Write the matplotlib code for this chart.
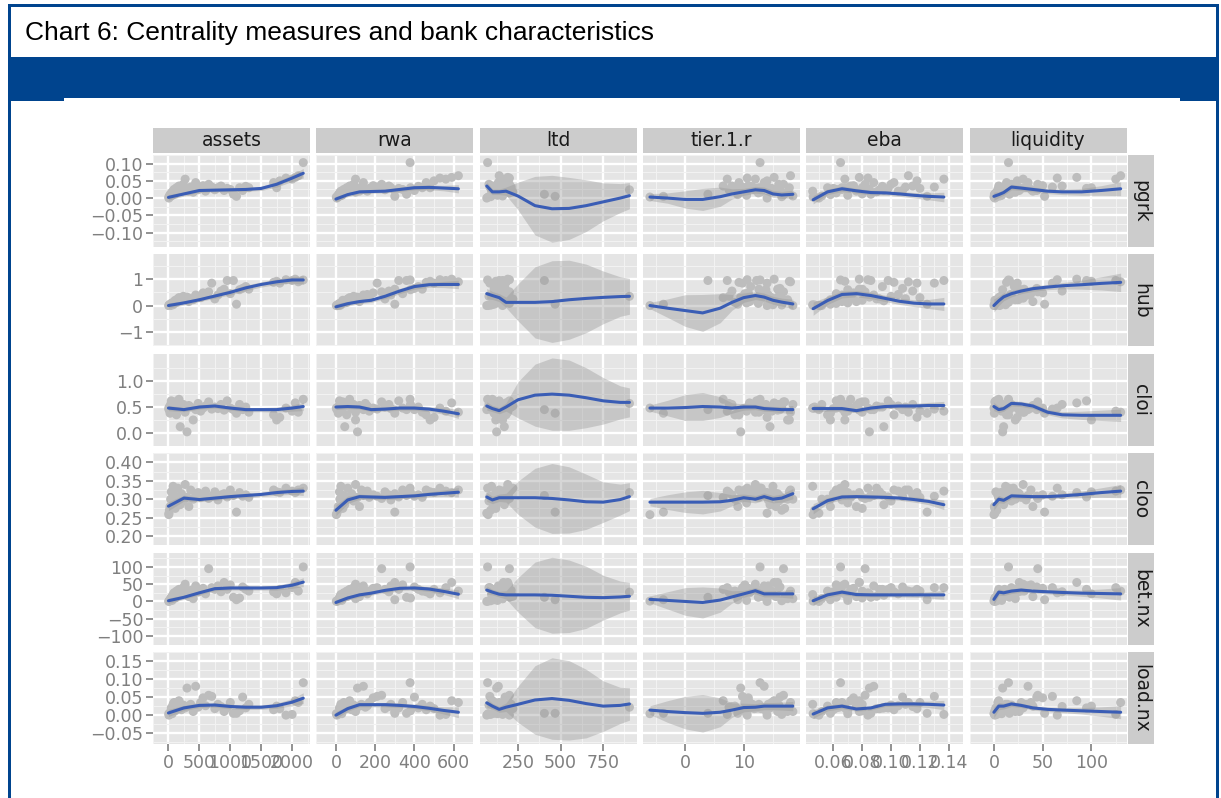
import matplotlib
matplotlib.use("Agg")
import matplotlib.pyplot as plt
from matplotlib.patches import Rectangle

W, H = 1221, 798

cols = ["assets", "rwa", "ltd", "tier.1.r", "eba", "liquidity"]
rows = ["pgrk", "hub", "cloi", "cloo", "bet.nx", "load.nx"]

# bank characteristics (one value per bank)
assets = [8, 15, 25, 35, 45, 60, 75, 90, 110, 130, 150, 170, 190, 210, 240, 270, 300, 330, 360, 400,
          440, 480, 520, 560, 600, 650, 700, 750, 800, 850, 900, 950, 1000, 1050, 1100, 1150, 1200, 1250,
          1300, 1700, 1750, 1800, 1900, 2000, 2050, 2100, 2180, 5]
rwa = [5, 10, 12, 20, 18, 30, 25, 40, 35, 55, 60, 70, 45, 80, 90, 100, 110, 120, 130, 100,
       140, 150, 170, 190, 160, 233, 210, 250, 280, 270, 300, 320, 340, 360, 300, 380, 400, 420,
       440, 460, 480, 500, 530, 560, 590, 624, 378, 2]
ltd = [67, 90, 110, 160, 200, 130, 95, 180, 120, 140, 220, 100, 170, 150, 80, 190, 125, 105, 210, 160,
       135, 904, 115, 175, 145, 200, 85, 155, 185, 125, 165, 140, 195, 405, 468, 130, 175, 150,
       110, 180, 120, 150, 200, 160, 190, 140, 72, 75]
tier1 = [14.0, 16.5, 9.0, 18.4, 12.5, 10.5, 15.0, 11.0, 17.0, 8.5, 13.0, 6.5, 14.5, 10.0, 16.0, 12.0,
         9.5, 15.5, 11.5, 17.5, 13.5, 7.5, 14.8, 10.8, 12.8, 16.8, 9.8, 11.8, 14.2, 8.0, 15.8, 12.2,
         10.2, 3.9, -3.7, 13.8, 16.2, 11.2, 12.6, 9.2, 17.8, 14.0, 10.6, 7.2, 15.2, 18.0, 12.8, -6.0]
eba = [0.050, 0.047, 0.058, 0.052, 0.062, 0.070, 0.0457, 0.066, 0.080, 0.056, 0.090, 0.072, 0.095,
       0.060, 0.100, 0.068, 0.085, 0.076, 0.110, 0.058, 0.088, 0.064, 0.120, 0.074, 0.105, 0.082,
       0.130, 0.092, 0.066, 0.115, 0.078, 0.098, 0.062, 0.086, 0.125, 0.070, 0.108, 0.094, 0.080,
       0.102, 0.068, 0.118, 0.084, 0.1366, 0.078, 0.112, 0.065, 0.046]
liquidity = [1, 3, 0.5, 6, 2, 8, 12, 4, 1, 15, 20, 5, 10, 25, 18, 30, 9, 40, 14, 22, 35, 7, 28, 50,
             17, 45, 60, 11, 33, 70, 26, 95, 38, 16, 52, 9, 44, 21, 31, 13, 100, 24, 65, 125, 85,
             130, 15, 0.1]

# centrality measures (same banks)
pgrk = [0.000, 0.004, 0.010, 0.006, 0.015, 0.008, 0.020, 0.025, 0.012, 0.030, 0.018, 0.035, 0.022,
        0.028, 0.040, 0.055, 0.026, 0.020, 0.032, 0.017, 0.045, 0.024, 0.028, 0.036, 0.020, 0.040,
        0.032, 0.024, 0.030, 0.035, 0.022, 0.028, 0.025, 0.011, 0.005, 0.030, 0.022, 0.034, 0.030,
        0.045, 0.030, 0.050, 0.058, 0.055, 0.060, 0.065, 0.103, 0.003]
hub = [0.00, 0.02, 0.05, 0.00, 0.08, 0.10, 0.03, 0.15, 0.20, 0.12, 0.25, 0.30, 0.18, 0.22, 0.35,
       0.28, 0.32, 0.15, 0.26, 0.22, 0.40, 0.35, 0.30, 0.48, 0.42, 0.52, 0.85, 0.25, 0.40, 0.55,
       0.62, 0.95, 0.45, 0.95, 0.05, 0.60, 0.65, 0.72, 0.62, 0.88, 0.92, 0.85, 0.98, 0.95, 1.00,
       0.90, 0.97, 0.00]
cloi = [0.45, 0.50, 0.38, 0.55, 0.62, 0.42, 0.48, 0.58, 0.60, 0.35, 0.52, 0.65, 0.12, 0.47, 0.55,
        0.40, 0.02, 0.53, 0.50, 0.25, 0.45, 0.57, 0.42, 0.48, 0.52, 0.60, 0.46, 0.50, 0.47, 0.55,
        0.44, 0.62, 0.48, 0.45, 0.38, 0.55, 0.45, 0.50, 0.40, 0.35, 0.25, 0.30, 0.48, 0.42, 0.58,
        0.40, 0.65, 0.48]
cloo = [0.262, 0.270, 0.280, 0.300, 0.320, 0.290, 0.335, 0.310, 0.275, 0.300, 0.330, 0.305, 0.285,
        0.315, 0.295, 0.340, 0.305, 0.280, 0.325, 0.300, 0.310, 0.318, 0.305, 0.312, 0.322, 0.302,
        0.308, 0.320, 0.298, 0.312, 0.315, 0.306, 0.325, 0.310, 0.265, 0.318, 0.308, 0.312, 0.305,
        0.325, 0.320, 0.318, 0.330, 0.322, 0.318, 0.325, 0.330, 0.258]
bet = [0, 2, 5, 8, 12, 3, 20, 25, 10, 30, 15, 35, 18, 28, 40, 50, 22, 14, 32, 8, 45, 27, 30, 38, 22,
       95, 40, 35, 45, 28, 55, 35, 48, 12, 5, 10, 42, 35, 30, 28, 22, 35, 25, 40, 55, 30, 100, 1]
load = [0.000, 0.002, 0.005, 0.010, 0.020, 0.004, 0.030, 0.035, 0.012, 0.025, 0.018, 0.040, 0.020,
        0.015, 0.028, 0.020, 0.075, 0.025, 0.030, 0.010, 0.080, 0.022, 0.035, 0.048, 0.026, 0.055,
        0.052, 0.018, 0.030, 0.024, 0.010, 0.020, 0.035, 0.005, 0.005, 0.012, 0.050, 0.020, 0.030,
        0.015, 0.025, 0.018, 0.000, 0.002, 0.040, 0.035, 0.090, 0.004]

# loess smooth: x knots per column, fitted value and ci half-width per row (one list per column)
assets_k = [0, 250, 500, 750, 1000, 1250, 1500, 1750, 2000, 2180]
rwa_k = [0, 60, 120, 180, 250, 325, 400, 475, 550, 624]
ltd_k = [67, 100, 140, 180, 250, 350, 450, 550, 650, 750, 850, 904]
tier_k = [-6, -3, 0, 3, 6, 8, 10, 12, 13.5, 15, 16.5, 18.4]
eba_k = [0.046, 0.056, 0.066, 0.076, 0.086, 0.096, 0.106, 0.116, 0.126, 0.1366]
liq_k = [0, 5, 10, 18, 28, 40, 55, 70, 90, 110, 130]

pgrk_fit = [[0.002, 0.012, 0.022, 0.023, 0.024, 0.025, 0.028, 0.040, 0.058, 0.072],
            [-0.003, 0.010, 0.018, 0.019, 0.020, 0.025, 0.030, 0.031, 0.029, 0.027],
            [0.035, 0.018, 0.018, 0.020, 0.006, -0.022, -0.031, -0.030, -0.022, -0.011, 0.000, 0.007],
            [0.003, 0.000, -0.004, -0.004, 0.004, 0.012, 0.018, 0.024, 0.022, 0.012, 0.009, 0.011],
            [-0.005, 0.018, 0.027, 0.021, 0.016, 0.015, 0.012, 0.008, 0.005, 0.003],
            [0.005, 0.010, 0.016, 0.032, 0.029, 0.025, 0.020, 0.018, 0.018, 0.022, 0.027]]
pgrk_se = [[0.008, 0.006, 0.005, 0.005, 0.005, 0.005, 0.006, 0.008, 0.010, 0.014],
           [0.008, 0.006, 0.005, 0.005, 0.005, 0.006, 0.006, 0.007, 0.008, 0.012],
           [0.012, 0.008, 0.008, 0.012, 0.040, 0.085, 0.097, 0.090, 0.075, 0.055, 0.042, 0.038],
           [0.010, 0.015, 0.025, 0.032, 0.028, 0.015, 0.010, 0.010, 0.010, 0.010, 0.010, 0.012],
           [0.012, 0.008, 0.008, 0.007, 0.007, 0.007, 0.007, 0.008, 0.010, 0.014],
           [0.012, 0.008, 0.008, 0.008, 0.007, 0.007, 0.007, 0.008, 0.010, 0.014, 0.020]]

hub_fit = [[0.00, 0.10, 0.22, 0.36, 0.50, 0.67, 0.80, 0.90, 0.97, 0.97],
           [-0.05, 0.07, 0.15, 0.20, 0.35, 0.55, 0.72, 0.79, 0.80, 0.80],
           [0.45, 0.38, 0.30, 0.12, 0.12, 0.12, 0.15, 0.22, 0.27, 0.31, 0.34, 0.35],
           [0.00, -0.10, -0.19, -0.28, -0.10, 0.12, 0.30, 0.38, 0.32, 0.20, 0.13, 0.06],
           [-0.12, 0.19, 0.42, 0.45, 0.38, 0.27, 0.16, 0.09, 0.06, 0.06],
           [0.00, 0.18, 0.33, 0.45, 0.55, 0.64, 0.70, 0.75, 0.79, 0.84, 0.88]]
hub_se = [[0.10, 0.08, 0.07, 0.08, 0.10, 0.10, 0.10, 0.10, 0.12, 0.16],
          [0.12, 0.09, 0.08, 0.08, 0.09, 0.10, 0.10, 0.10, 0.12, 0.16],
          [0.20, 0.15, 0.15, 0.20, 0.70, 1.35, 1.55, 1.50, 1.30, 1.00, 0.75, 0.68],
          [0.12, 0.35, 0.60, 0.70, 0.55, 0.30, 0.18, 0.15, 0.15, 0.15, 0.15, 0.18],
          [0.25, 0.15, 0.13, 0.12, 0.12, 0.12, 0.12, 0.13, 0.17, 0.25],
          [0.25, 0.18, 0.15, 0.12, 0.10, 0.10, 0.10, 0.12, 0.17, 0.25, 0.35]]

cloi_fit = [[0.48, 0.45, 0.50, 0.52, 0.48, 0.45, 0.45, 0.45, 0.48, 0.51],
            [0.50, 0.51, 0.50, 0.45, 0.46, 0.48, 0.48, 0.46, 0.42, 0.37],
            [0.52, 0.47, 0.43, 0.50, 0.64, 0.73, 0.75, 0.73, 0.68, 0.62, 0.59, 0.59],
            [0.48, 0.48, 0.49, 0.51, 0.50, 0.48, 0.50, 0.50, 0.47, 0.46, 0.45, 0.45],
            [0.47, 0.47, 0.47, 0.43, 0.48, 0.51, 0.52, 0.52, 0.53, 0.53],
            [0.51, 0.45, 0.47, 0.57, 0.56, 0.52, 0.40, 0.35, 0.34, 0.34, 0.34]]
cloi_se = [[0.05, 0.04, 0.04, 0.04, 0.04, 0.04, 0.04, 0.05, 0.06, 0.08],
           [0.05, 0.04, 0.04, 0.04, 0.04, 0.04, 0.04, 0.05, 0.06, 0.09],
           [0.08, 0.06, 0.06, 0.08, 0.35, 0.60, 0.70, 0.68, 0.58, 0.45, 0.32, 0.28],
           [0.06, 0.15, 0.25, 0.27, 0.20, 0.10, 0.06, 0.05, 0.05, 0.05, 0.06, 0.08],
           [0.07, 0.05, 0.04, 0.04, 0.04, 0.04, 0.04, 0.05, 0.06, 0.08],
           [0.08, 0.06, 0.05, 0.05, 0.05, 0.05, 0.05, 0.06, 0.08, 0.10, 0.12]]

cloo_fit = [[0.281, 0.303, 0.299, 0.303, 0.307, 0.310, 0.313, 0.318, 0.321, 0.322],
            [0.270, 0.298, 0.307, 0.306, 0.305, 0.307, 0.309, 0.313, 0.316, 0.319],
            [0.306, 0.298, 0.304, 0.304, 0.304, 0.304, 0.302, 0.298, 0.293, 0.292, 0.299, 0.307],
            [0.292, 0.292, 0.292, 0.292, 0.293, 0.297, 0.304, 0.300, 0.307, 0.300, 0.303, 0.315],
            [0.274, 0.296, 0.306, 0.307, 0.306, 0.305, 0.303, 0.299, 0.294, 0.285],
            [0.285, 0.300, 0.297, 0.309, 0.308, 0.307, 0.307, 0.309, 0.313, 0.318, 0.322]]
cloo_se = [[0.012, 0.008, 0.006, 0.006, 0.006, 0.006, 0.006, 0.007, 0.008, 0.012],
           [0.015, 0.010, 0.007, 0.006, 0.006, 0.006, 0.006, 0.007, 0.009, 0.013],
           [0.012, 0.010, 0.010, 0.012, 0.045, 0.080, 0.095, 0.090, 0.075, 0.055, 0.042, 0.038],
           [0.010, 0.020, 0.028, 0.032, 0.025, 0.015, 0.010, 0.010, 0.010, 0.010, 0.011, 0.014],
           [0.014, 0.008, 0.007, 0.006, 0.006, 0.006, 0.006, 0.007, 0.009, 0.013],
           [0.015, 0.010, 0.008, 0.007, 0.006, 0.006, 0.006, 0.007, 0.009, 0.013, 0.018]]

bet_fit = [[2, 12, 25, 37, 39, 39, 39, 40, 47, 56],
           [-3, 10, 19, 24, 32, 38, 39, 36, 29, 21],
           [33, 27, 21, 19, 19, 19, 18, 15, 12, 11, 13, 15],
           [6, 3, 0, -3, 4, 13, 22, 31, 22, 22, 22, 22],
           [2, 19, 27, 20, 19, 19, 19, 19, 19, 19],
           [6, 27, 25, 30, 33, 30, 28, 26, 24, 23, 22]]
bet_se = [[8, 6, 6, 6, 6, 6, 6, 7, 9, 13],
          [8, 6, 6, 6, 6, 6, 6, 7, 9, 13],
          [12, 8, 8, 12, 50, 95, 110, 105, 90, 65, 46, 40],
          [10, 25, 40, 45, 35, 18, 10, 9, 9, 9, 10, 13],
          [12, 8, 7, 6, 6, 6, 6, 7, 9, 13],
          [14, 9, 8, 7, 6, 6, 6, 7, 9, 13, 18]]

load_fit = [[0.006, 0.020, 0.027, 0.028, 0.024, 0.022, 0.022, 0.026, 0.036, 0.047],
            [0.000, 0.018, 0.029, 0.029, 0.029, 0.027, 0.024, 0.019, 0.013, 0.008],
            [0.034, 0.025, 0.016, 0.022, 0.030, 0.042, 0.046, 0.041, 0.032, 0.025, 0.027, 0.031],
            [0.014, 0.010, 0.007, 0.005, 0.008, 0.014, 0.021, 0.022, 0.025, 0.025, 0.025, 0.025],
            [0.003, 0.020, 0.025, 0.017, 0.020, 0.030, 0.031, 0.031, 0.030, 0.028],
            [0.008, 0.025, 0.025, 0.031, 0.027, 0.020, 0.016, 0.014, 0.012, 0.010, 0.008]]
load_se = [[0.010, 0.007, 0.006, 0.006, 0.006, 0.006, 0.006, 0.007, 0.010, 0.015],
           [0.010, 0.007, 0.006, 0.006, 0.006, 0.006, 0.006, 0.007, 0.010, 0.015],
           [0.012, 0.008, 0.008, 0.012, 0.050, 0.095, 0.113, 0.110, 0.095, 0.070, 0.050, 0.045],
           [0.012, 0.030, 0.045, 0.052, 0.040, 0.020, 0.012, 0.010, 0.010, 0.010, 0.011, 0.013],
           [0.012, 0.008, 0.007, 0.006, 0.006, 0.006, 0.006, 0.007, 0.009, 0.013],
           [0.015, 0.010, 0.008, 0.007, 0.006, 0.006, 0.006, 0.007, 0.009, 0.013, 0.018]]

# axis breaks
x_ticks = [[0, 500, 1000, 1500, 2000], [0, 200, 400, 600], [250, 500, 750], [0, 10],
           [0.06, 0.08, 0.10, 0.12, 0.14], [0, 50, 100]]
x_labels = [["0", "500", "1000", "1500", "2000"], ["0", "200", "400", "600"], ["250", "500", "750"],
            ["0", "10"], ["0.06", "0.08", "0.10", "0.12", "0.14"], ["0", "50", "100"]]
y_ticks = [[-0.10, -0.05, 0.0, 0.05, 0.10], [-1, 0, 1], [0.0, 0.5, 1.0],
           [0.20, 0.25, 0.30, 0.35, 0.40], [-100, -50, 0, 50, 100], [-0.05, 0.0, 0.05, 0.10, 0.15]]
y_labels = [["\u22120.10", "\u22120.05", "0.00", "0.05", "0.10"], ["\u22121", "0", "1"],
            ["0.0", "0.5", "1.0"], ["0.20", "0.25", "0.30", "0.35", "0.40"],
            ["\u2212100", "\u221250", "0", "50", "100"], ["\u22120.05", "0.00", "0.05", "0.10", "0.15"]]
x_lims = [(-128, 2289), (-26, 655), (25, 946), (-7.2, 19.6), (0.0412, 0.1412), (-6.4, 136)]
y_lims = [(-0.142, 0.114), (-1.55, 1.94), (-0.063, 1.53), (0.192, 0.403), (-107, 141.5), (-0.080, 0.167)]

xvals = [assets, rwa, ltd, tier1, eba, liquidity]
yvals = [pgrk, hub, cloi, cloo, bet, load]
knots = [assets_k, rwa_k, ltd_k, tier_k, eba_k, liq_k]
fits = [pgrk_fit, hub_fit, cloi_fit, cloo_fit, bet_fit, load_fit]
ses = [pgrk_se, hub_se, cloi_se, cloo_se, bet_se, load_se]

BLUE = "#00448E"
PANEL = "#E5E5E5"
STRIP = "#CCCCCC"
GREY_TXT = "#7F7F7F"


def px_axes(left, top, w, h):
    return fig.add_axes([left / W, 1 - (top + h) / H, w / W, h / H])


def minor(ticks):
    step = ticks[1] - ticks[0]
    return [t - step / 2 for t in ticks] + [ticks[-1] + step / 2]


fig = plt.figure(figsize=(W / 100, H / 100), dpi=100, facecolor="white")

# frame and header
fig.patches.append(Rectangle((8 / W, 1 - 7 / H), 1211 / W, 3 / H, transform=fig.transFigure,
                             color=BLUE, lw=0))
fig.patches.append(Rectangle((8 / W, 0), 3 / W, 1 - 5 / H, transform=fig.transFigure, color=BLUE, lw=0))
fig.patches.append(Rectangle((1216 / W, 0), 3 / W, 1 - 5 / H, transform=fig.transFigure, color=BLUE, lw=0))
fig.patches.append(Rectangle((8 / W, 1 - 98 / H), 1211 / W, 41 / H, transform=fig.transFigure,
                             color=BLUE, lw=0))
fig.patches.append(Rectangle((8 / W, 1 - 101 / H), 56 / W, 4 / H, transform=fig.transFigure, color=BLUE, lw=0))
fig.patches.append(Rectangle((1180 / W, 1 - 101 / H), 39 / W, 4 / H, transform=fig.transFigure,
                             color=BLUE, lw=0))
fig.text(25 / W, 1 - 33 / H, "Chart 6: Centrality measures and bank characteristics",
         family="Liberation Sans", fontsize=19, color="black", va="center", ha="left")

col_left = [153 + i * 163.3 for i in range(6)]
row_top = [155 + j * 99.4 for j in range(6)]
pw, ph = 157, 92

for j in range(6):
    for i in range(6):
        ax = px_axes(col_left[i], row_top[j], pw, ph)
        ax.set_facecolor(PANEL)
        for s in ax.spines.values():
            s.set_visible(False)
        ax.set_axisbelow(True)
        ax.set_xlim(*x_lims[i])
        ax.set_ylim(*y_lims[j])
        ax.set_xticks(x_ticks[i])
        ax.set_yticks(y_ticks[j])
        ax.set_xticks(minor(x_ticks[i]), minor=True)
        ax.set_yticks(minor(y_ticks[j]), minor=True)
        ax.grid(which="major", color="white", lw=1.7)
        ax.grid(which="minor", color="#F2F2F2", lw=0.8)
        ax.tick_params(which="minor", length=0)
        ax.tick_params(which="major", length=5, width=1.2, color=GREY_TXT, labelcolor=GREY_TXT,
                       labelsize=12.5, pad=2)
        if i == 0:
            ax.set_yticklabels(y_labels[j])
        else:
            ax.tick_params(axis="y", length=0, labelleft=False)
        if j == 5:
            ax.set_xticklabels(x_labels[i])
        else:
            ax.tick_params(axis="x", length=0, labelbottom=False)

        ax.scatter(xvals[i], yvals[j], s=42, color="#BDBDBD", edgecolors="none", zorder=2)
        k = knots[i]
        f = fits[j][i]
        se = ses[j][i]
        lo = [a - b for a, b in zip(f, se)]
        hi = [a + b for a, b in zip(f, se)]
        ax.fill_between(k, lo, hi, color="#999999", alpha=0.4, lw=0, zorder=3)
        ax.plot(k, f, color="#3A5DB5", lw=2.2, zorder=4, solid_capstyle="round")

# strips
for i, name in enumerate(cols):
    sax = px_axes(col_left[i], 128, pw, 25)
    sax.set_facecolor(STRIP)
    sax.set_xticks([])
    sax.set_yticks([])
    for s in sax.spines.values():
        s.set_visible(False)
    sax.text(0.5, 0.5, name, transform=sax.transAxes, ha="center", va="center",
             fontsize=13.5, color="#1A1A1A")
for j, name in enumerate(rows):
    sax = px_axes(1128, row_top[j], 26, ph)
    sax.set_facecolor(STRIP)
    sax.set_xticks([])
    sax.set_yticks([])
    for s in sax.spines.values():
        s.set_visible(False)
    sax.text(0.5, 0.5, name, transform=sax.transAxes, ha="center", va="center",
             fontsize=13.5, color="#1A1A1A", rotation=270)

fig.savefig("out.png", dpi=100, facecolor="white")
